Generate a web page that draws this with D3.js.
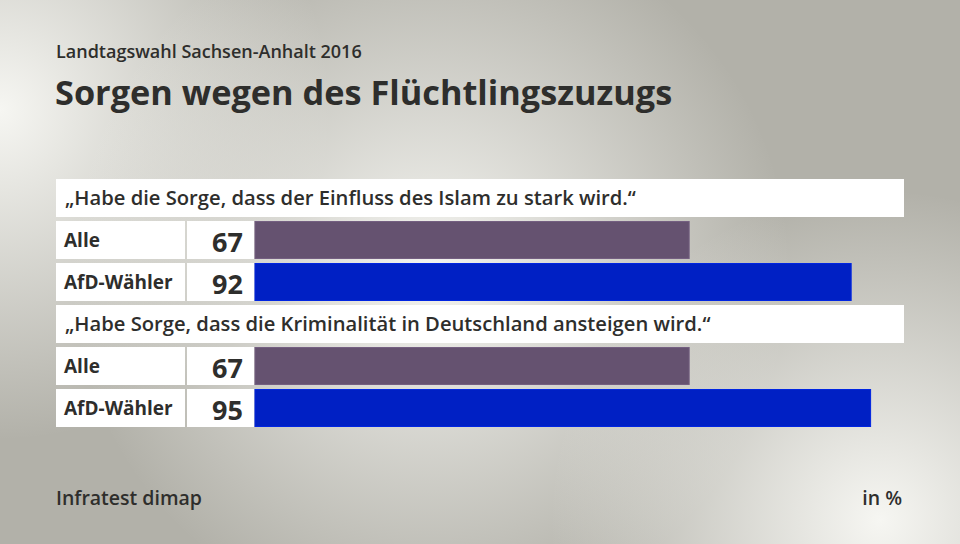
<!DOCTYPE html>
<html><head><meta charset="utf-8">
<script src="https://cdn.jsdelivr.net/npm/d3@7"></script>
<style>body{margin:0;padding:0;}svg{display:block;}text{font-family:"Open Sans",sans-serif;fill:#2e2e2c;}</style>
</head><body>
<script>
const subtitle = "Landtagswahl Sachsen-Anhalt 2016";
const title = "Sorgen wegen des Flüchtlingszuzugs";
const questions = ["„Habe die Sorge, dass der Einfluss des Islam zu stark wird.“",
                   "„Habe Sorge, dass die Kriminalität in Deutschland ansteigen wird.“"];
const groups = ["Alle", "AfD-Wähler"];
const valuesQ1 = [67, 92];
const valuesQ2 = [67, 95];
const groupColors = ["#655270", "#0020c4"];
const source = "Infratest dimap";
const unit = "in %";

const W = 960, H = 544;
const svg = d3.select("body").append("svg").attr("width", W).attr("height", H);
const defs = svg.append("defs");

// background
function radial(id, cx, cy, r, color, op) {
  const g = defs.append("radialGradient").attr("id", id).attr("gradientUnits", "userSpaceOnUse")
    .attr("cx", cx).attr("cy", cy).attr("r", r);
  g.append("stop").attr("offset", "0%").attr("stop-color", color).attr("stop-opacity", op);
  g.append("stop").attr("offset", "100%").attr("stop-color", color).attr("stop-opacity", 0);
}
svg.append("rect").attr("width", W).attr("height", H).attr("fill", "#b2b1a9");
radial("g1", 0, 110, 330, "#f6f6f2", 1);
radial("g2", 430, 270, 360, "#f4f4f0", 1);
radial("g3", 880, 520, 330, "#f6f6f2", 1);
["g1", "g2", "g3"].forEach(id => svg.append("rect").attr("width", W).attr("height", H).attr("fill", `url(#${id})`));

// titles
svg.append("text").attr("x", 56).attr("y", 58).attr("font-size", 18).attr("font-weight", 600).text(subtitle);
svg.append("text").attr("x", 55).attr("y", 105).attr("font-size", 34.3).attr("font-weight", 700).text(title);

// rows
const rows = [];
questions.forEach((q, qi) => {
  rows.push({type: "q", text: q});
  const vals = qi === 0 ? valuesQ1 : valuesQ2;
  groups.forEach((g, gi) => rows.push({type: "b", label: g, value: vals[gi], color: groupColors[gi]}));
});

const y = d3.scaleBand().domain(d3.range(rows.length)).range([179, 179 + rows.length * 42 - 4]).paddingInner(4 / 42);
const x = d3.scaleLinear().domain([0, 100]).range([255, 903]);

const row = svg.selectAll("g.row").data(rows).join("g").attr("class", "row")
  .attr("transform", (d, i) => `translate(0,${y(i)})`);

row.filter(d => d.type === "q").each(function(d) {
  const g = d3.select(this);
  g.append("rect").attr("x", 56).attr("width", 848).attr("height", y.bandwidth()).attr("fill", "#ffffff");
  g.append("text").attr("x", 65).attr("y", 26).attr("font-size", 20.2).attr("font-weight", 600).text(d.text);
});

row.filter(d => d.type === "b").each(function(d) {
  const g = d3.select(this);
  const h = y.bandwidth();
  g.append("rect").attr("x", 56).attr("width", 129).attr("height", h).attr("fill", "#ffffff");
  g.append("rect").attr("x", 187).attr("width", 67).attr("height", h).attr("fill", "#ffffff");
  g.append("rect").attr("x", x(0)).attr("y", 0.5).attr("width", x(d.value) - x(0)).attr("height", h - 1)
    .attr("fill", d.color).attr("stroke", d3.color(d.color).brighter(0.4)).attr("stroke-width", 1);
  g.append("text").attr("x", 64).attr("y", 25.5).attr("font-size", 19).attr("font-weight", 700).text(d.label);
  g.append("text").attr("x", 243).attr("y", 30.5).attr("font-size", 27).attr("font-weight", 700)
    .attr("text-anchor", "end").text(d.value);
});

svg.append("text").attr("x", 56).attr("y", 505).attr("font-size", 19.5).attr("font-weight", 600).text(source);
svg.append("text").attr("x", 902).attr("y", 505).attr("font-size", 19.5).attr("font-weight", 600)
  .attr("text-anchor", "end").text(unit);
</script>
</body></html>
